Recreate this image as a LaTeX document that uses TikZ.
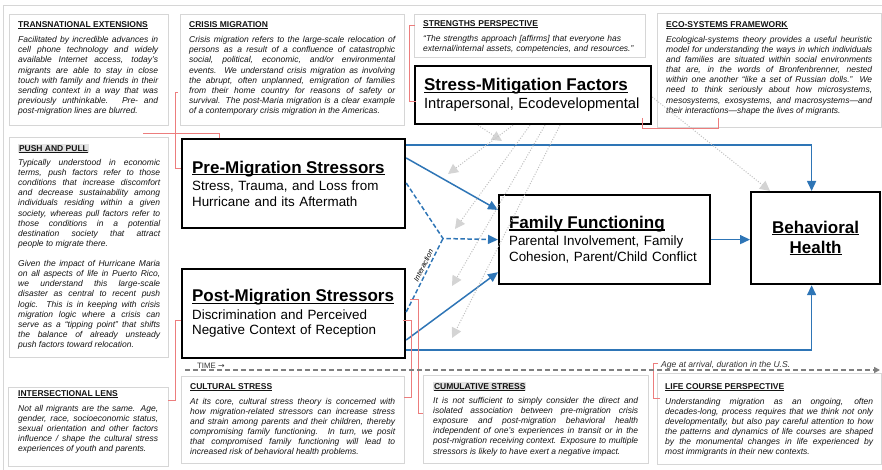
\documentclass[tikz,border=0pt]{standalone}
\usepackage{fontspec}
\setmainfont{Liberation Sans}
\newfontfamily\symfont{DejaVu Sans}
\usepackage{xcolor}
\definecolor{arrowblue}{RGB}{46,117,182}
\definecolor{notered}{RGB}{236,125,125}
\definecolor{framegray}{RGB}{214,214,214}
\definecolor{dotgray}{RGB}{192,192,192}
\definecolor{tipgray}{RGB}{212,212,212}
\definecolor{timegray}{RGB}{128,128,128}
\definecolor{headshade}{RGB}{226,226,226}
\usepackage{tikz}
\usetikzlibrary{arrows.meta}
\hbadness=10000
% underline at a fixed depth, crossing the descenders
\newcommand{\uhead}[1]{\leavevmode\setbox0\hbox{#1}\rlap{\rule[-0.14em]{\wd0}{0.08em}}\box0}
\newcommand{\notehead}[1]{{\bfseries\uhead{#1}}\par\vspace{4.85pt}\itshape}
\newcommand{\shadehead}[1]{{\setlength{\fboxsep}{0.8pt}\colorbox{headshade}{\bfseries\uhead{#1}}}\par\vspace{4.05pt}\itshape}
\newcommand{\boxtitle}{\fontsize{17}{18}\selectfont\bfseries}

\begin{document}
\begin{tikzpicture}[x=1pt, y=-1pt,
    notebox/.style={draw=framegray, line width=0.8pt},
    notetext/.style={anchor=north west, inner sep=0pt, align=justify, text=black!92,
      font=\fontsize{8.5}{10.15}\selectfont},
    mainbox/.style={draw=black, line width=2.2pt, fill=white, anchor=north west,
      inner xsep=10pt, inner ysep=0pt, align=left, font=\fontsize{13.4}{15.7}\selectfont},
    bluearrow/.style={draw=arrowblue, line width=1.5pt, -{Triangle[length=10pt,width=9pt]}},
    interarrow/.style={bluearrow, dash pattern=on 4.5pt off 2.5pt},
    modarrow/.style={draw=dotgray, line width=1pt, dash pattern=on 1pt off 1.6pt,
      -{Triangle[length=10pt,width=10pt,color=tipgray]}},
    notebracket/.style={draw=notered, line width=0.6pt}]
  \useasboundingbox (0,0) rectangle (882,470);

  % page edge
  \draw[framegray, line width=0.8pt] (3,470) -- (3,5) -- (882,5);

  % note frames
  \draw[notebox] (9,14) rectangle (168,125);
  \draw[notebox] (180,14) rectangle (404,125);
  \draw[notebox] (414,14) rectangle (645,57);
  \draw[notebox] (657,13) rectangle (881,127);
  \draw[notebox] (9,137) rectangle (168,357);
  \draw[notebox] (8,387) rectangle (168,466);
  \draw[notebox] (181,376) rectangle (404,463);
  \draw[notebox] (423,375) rectangle (648,463);
  \draw[notebox] (657,373) rectangle (881,464);

  % note texts
  \node[notetext, text width=140pt] (transnational) at (18,21.5) {\notehead{TRANSNATIONAL EXTENSIONS}
    Facilitated by incredible advances in\linebreak
    cell phone technology and widely\linebreak
    available Internet access, today’s\linebreak
    migrants are able to stay in close\linebreak
    touch with family and friends in their\linebreak
    sending context in a way that was\linebreak
    previously unthinkable. Pre- and\linebreak
    post-migration lines are blurred.};

  \node[notetext, text width=206pt] (crisis) at (189,21.5) {\notehead{CRISIS MIGRATION}
    Crisis migration refers to the large-scale relocation of\linebreak
    persons as a result of a confluence of catastrophic\linebreak
    social, political, economic, and/or environmental\linebreak
    events. We understand crisis migration as involving\linebreak
    the abrupt, often unplanned, emigration of families\linebreak
    from their home country for reasons of safety or\linebreak
    survival. The post-Maria migration is a clear example\linebreak
    of a contemporary crisis migration in the Americas.};

  \node[notetext, text width=215pt, align=left] (strengths) at (423,20.7) {\notehead{STRENGTHS PERSPECTIVE}
    “The strengths approach [affirms] that everyone has\\
    external/internal assets, competencies, and resources.”};

  \node[notetext, text width=206pt] (ecosystems) at (666,21) {\notehead{ECO-SYSTEMS FRAMEWORK}
    Ecological-systems theory provides a useful heuristic\linebreak
    model for understanding the ways in which individuals\linebreak
    and families are situated within social environments\linebreak
    that are, in the words of Bronfenbrenner, nested\linebreak
    within one another “like a set of Russian dolls.” We\linebreak
    need to think seriously about how microsystems,\linebreak
    mesosystems, exosystems, and macrosystems—and\linebreak
    their interactions—shape the lives of migrants.};

  \node[notetext, text width=142pt] (pushpull) at (18,144.2) {\shadehead{PUSH AND PULL}
    Typically understood in economic\linebreak
    terms, push factors refer to those\linebreak
    conditions that increase discomfort\linebreak
    and decrease sustainability among\linebreak
    individuals residing within a given\linebreak
    society, whereas pull factors refer to\linebreak
    those conditions in a potential\linebreak
    destination society that attract\linebreak
    people to migrate there.\par\vspace{9.8pt}
    Given the impact of Hurricane Maria\linebreak
    on all aspects of life in Puerto Rico,\linebreak
    we understand this large-scale\linebreak
    disaster as central to recent push\linebreak
    logic. This is in keeping with crisis\linebreak
    migration logic where a crisis can\linebreak
    serve as a “tipping point” that shifts\linebreak
    the balance of already unsteady\linebreak
    push factors toward relocation.};

  \node[notetext, text width=140pt] (intersectional) at (18,390) {\notehead{INTERSECTIONAL LENS}
    Not all migrants are the same. Age,\linebreak
    gender, race, socioeconomic status,\linebreak
    sexual orientation and other factors\linebreak
    influence / shape the cultural stress\linebreak
    experiences of youth and parents.};

  \node[notetext, text width=205pt] (cultural) at (190,383) {\notehead{CULTURAL STRESS}
    At its core, cultural stress theory is concerned with\linebreak
    how migration-related stressors can increase stress\linebreak
    and strain among parents and their children, thereby\linebreak
    compromising family functioning. In turn, we posit\linebreak
    that compromised family functioning will lead to\linebreak
    increased risk of behavioral health problems.};

  \node[notetext, text width=205pt] (cumulative) at (433,382.2) {\shadehead{CUMULATIVE STRESS}
    It is not sufficient to simply consider the direct and\linebreak
    isolated association between pre-migration crisis\linebreak
    exposure and post-migration behavioral health\linebreak
    independent of one’s experiences in transit or in the\linebreak
    post-migration receiving context. Exposure to multiple\linebreak
    stressors is likely to have exert a negative impact.};

  \node[notetext, text width=208pt] (lifecourse) at (665,383) {\notehead{LIFE COURSE PERSPECTIVE}
    Understanding migration as an ongoing, often\linebreak
    decades-long, process requires that we think not only\linebreak
    developmentally, but also pay careful attention to how\linebreak
    the patterns and dynamics of life courses are shaped\linebreak
    by the monumental changes in life experienced by\linebreak
    most immigrants in their new contexts.};

  % model boxes
  \node[mainbox, text width=218pt, inner xsep=9pt, minimum height=58pt] (smf) at (414,65)
    {{\boxtitle\uhead{Stress-Mitigation Factors}}\\[2pt]
     {\fontsize{14.7}{16}\selectfont Intrapersonal, Ecodevelopmental}};
  \node[mainbox, text width=203pt, minimum height=89pt] (pre) at (181,138)
    {{\boxtitle\uhead{Pre-Migration Stressors}}\\[1.8pt]
     Stress, Trauma, and Loss from\\
     Hurricane and its Aftermath};
  \node[mainbox, text width=203pt, minimum height=89pt] (post) at (181,268)
    {{\boxtitle\uhead{Post-Migration Stressors}}\\[1.8pt]
     Discrimination and Perceived\\
     Negative Context of Reception};
  \node[mainbox, text width=191pt, minimum height=89pt] (ff) at (498,194)
    {{\boxtitle\uhead{Family Functioning}}\\[1.8pt]
     Parental Involvement, Family\\
     Cohesion, Parent/Child Conflict};
  \node[mainbox, text width=109pt, minimum height=92pt, align=center,
        font=\fontsize{17}{20}\selectfont\bfseries] (bh) at (750,191)
    {\uhead{Behavioral}\\\uhead{Health}};

  % paths of the model
  \coordinate (ix) at (443,238.5);
  \draw[bluearrow] ([yshift=-7pt]pre.north east) -| ([xshift=-4pt]bh.north);
  \draw[bluearrow] ([yshift=-20pt]pre.north east) -- ([yshift=-16pt]ff.north west);
  \draw[interarrow] ([yshift=-45pt]pre.north east) -- (ix) -- (ff.west);
  \draw[interarrow, -] ([yshift=-44pt]post.north east) -- (ix)
    node[pos=.6, sloped, above, inner sep=2pt, font=\fontsize{7.4}{8}\selectfont\itshape] {Interaction};
  \draw[bluearrow] ([yshift=-72pt]post.north east) -- ([yshift=13pt]ff.south west);
  \draw[bluearrow] ([yshift=-82pt]post.north east) -| ([xshift=-4pt]bh.south);
  \draw[bluearrow] (ff.east) -- (ff.east -| bh.west);

  % moderation by stress-mitigation factors
  \coordinate (m1) at (502,141);
  \coordinate (m2) at (448,174);
  \coordinate (m3) at (455,229);
  \coordinate (m4) at (452,286);
  \coordinate (m5) at (452,338);
  \draw[modarrow] ([xshift=64pt]smf.south west) -- (m1);
  \draw[modarrow] ([xshift=99pt]smf.south west) -- (m2);
  \draw[modarrow] ([xshift=116pt]smf.south west) -- (m3);
  \draw[modarrow] ([xshift=131pt]smf.south west) -- (m4);
  \draw[modarrow] ([xshift=146pt]smf.south west) -- (m5);
  \draw[modarrow] ([yshift=-32pt]smf.north east) -- ([xshift=20pt]bh.north west);

  % comment brackets
  \draw[notebracket] (178,92) -- (175,92) -- (175,168) -- (181,168);
  \draw[notebracket] (143,133) -- (219,133) -- (219,138);
  \draw[notebracket] (415,25) -- (409,25) -- (409,101) -- (416,101);
  \draw[notebracket] (642,118) -- (642,128) -- (718,128) -- (718,118);
  \draw[notebracket] (181,320) -- (175,320) -- (175,400) -- (168,400);
  \draw[notebracket] (403,320) -- (411,320) -- (411,397) -- (404,397);
  \draw[notebracket] (410,299) -- (418,299) -- (418,413) -- (423,413);
  \draw[notebracket] (658,363) -- (653,363) -- (653,398) -- (660,398);

  % time line
  \coordinate (tstart) at (185,370);
  \coordinate (tend) at (880,370);
  \draw[timegray, line width=1.6pt, dash pattern=on 5pt off 3pt,
        -{Triangle[length=6pt,width=6pt]}] (tstart) -- (tend);
  \node[anchor=base west, inner sep=0pt, text=black!80, font=\fontsize{7.8}{9}\selectfont] (timelabel) at (197,368) {TIME {\symfont →}};
  \node[anchor=base west, inner sep=0pt, text=black!80, font=\fontsize{8.6}{10}\selectfont\itshape] (agelabel) at (661,367) {Age at arrival, duration in the U.S.};
\end{tikzpicture}
\end{document}
